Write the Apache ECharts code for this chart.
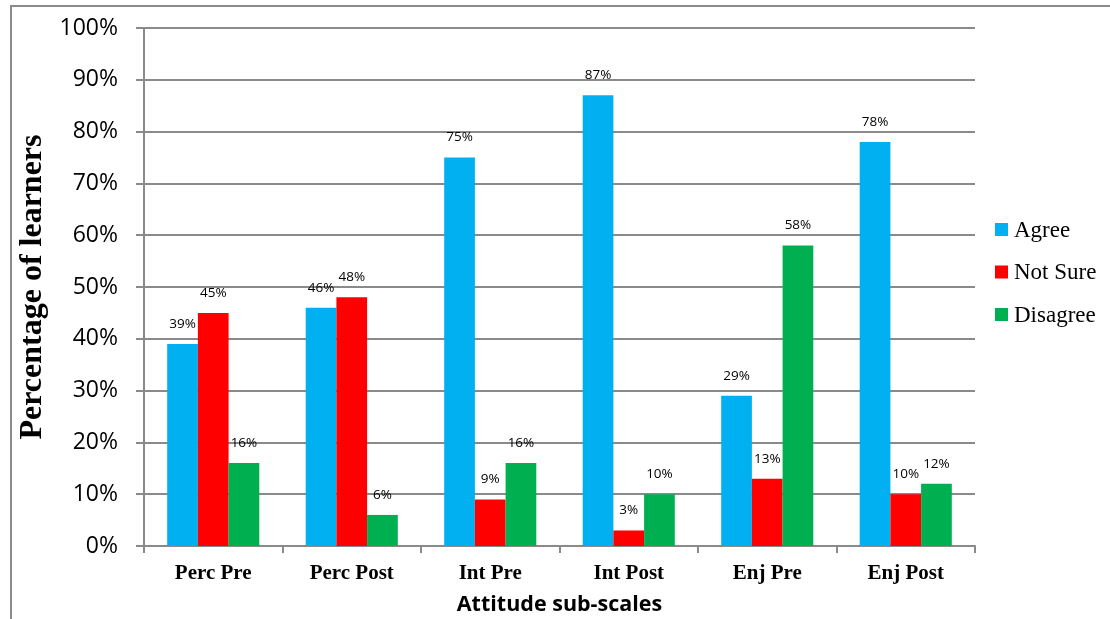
<!DOCTYPE html>
<html>
<head>
<meta charset="utf-8">
<script src="https://cdn.jsdelivr.net/npm/echarts@6/dist/echarts.min.js"></script>
<style>
  html, body { margin: 0; padding: 0; background: #fff; }
  #frame { position: absolute; left: 10px; top: 5px; width: 1100px; height: 614px;
           border-left: 2px solid #8a8a8a; border-top: 2px solid #8a8a8a; box-sizing: border-box; }
  #chart { position: absolute; left: 0; top: 0; width: 1110px; height: 619px; }
</style>
</head>
<body>
<div id="frame"></div>
<div id="chart"></div>
<script>
// Attitude sub-scales and the share of learners per response
const categories = ['Perc Pre', 'Perc Post', 'Int Pre', 'Int Post', 'Enj Pre', 'Enj Post'];
const agree    = [39, 46, 75, 87, 29, 78];
const notSure  = [45, 48, 9, 3, 13, 10];
const disagree = [16, 6, 16, 10, 58, 12];
const responses = ['Agree', 'Not Sure', 'Disagree'];
const yTicks = [0, 10, 20, 30, 40, 50, 60, 70, 80, 90, 100];

const chart = echarts.init(document.getElementById('chart'));

function barSeries(name, data, color) {
  return {
    name: name,
    type: 'bar',
    data: data,
    barGap: '0%',
    barCategoryGap: '33.5%',
    itemStyle: { color: color },
    label: {
      show: true,
      position: 'top',
      distance: 13,
      formatter: '{c}%',
      fontFamily: 'Open Sans',
      fontSize: 13.5,
      color: '#000'
    }
  };
}

// Legend swatches come from the legend component; its captions are set in serif type
// as separate text elements beside each swatch.
const legendTop = 213;
const legendStep = 42.5;
const legendCaptions = responses.map(function (n, i) {
  return {
    type: 'text',
    left: 1014,
    top: legendTop + i * legendStep + 6,
    style: { text: n, fill: '#000', font: '23px "Liberation Serif", serif' }
  };
});

chart.setOption({
  animation: false,
  backgroundColor: 'transparent',
  grid: { left: 144, right: 135, top: 28, bottom: 73, containLabel: false, outerBoundsMode: 'none' },
  legend: {
    orient: 'vertical',
    left: 990,
    top: legendTop,
    itemWidth: 13,
    itemHeight: 13,
    itemGap: 19.5,
    icon: 'rect',
    textStyle: { fontSize: 23, color: 'rgba(0,0,0,0)' },
    data: responses
  },
  graphic: legendCaptions,
  xAxis: {
    type: 'category',
    data: categories,
    name: 'Attitude sub-scales',
    nameLocation: 'middle',
    nameGap: 48,
    nameTextStyle: { fontFamily: 'Open Sans', fontWeight: 'bold', fontSize: 21.5, color: '#000' },
    axisLine: { lineStyle: { color: '#8a8a8a', width: 2 } },
    axisTick: { show: true, length: 7, lineStyle: { color: '#8a8a8a', width: 2 } },
    axisLabel: { fontFamily: 'Liberation Serif', fontWeight: 'bold', fontSize: 21, color: '#000', margin: 17 }
  },
  yAxis: {
    type: 'value',
    min: 0,
    max: 100,
    interval: 10,
    name: 'Percentage of learners',
    nameLocation: 'middle',
    nameGap: 89,
    nameTextStyle: { fontFamily: 'Liberation Serif', fontWeight: 'bold', fontSize: 32, color: '#000' },
    axisLine: { show: true, lineStyle: { color: '#8a8a8a', width: 2 } },
    axisTick: { show: true, length: 8, lineStyle: { color: '#8a8a8a', width: 2 } },
    splitLine: { lineStyle: { color: '#8a8a8a', width: 2 } },
    axisLabel: {
      fontFamily: 'Open Sans',
      fontSize: 23,
      color: '#000',
      margin: 26,
      formatter: function (v) { return yTicks.includes(v) ? v + '%' : ''; }
    }
  },
  series: [
    barSeries(responses[0], agree, '#00b0f0'),
    barSeries(responses[1], notSure, '#ff0000'),
    barSeries(responses[2], disagree, '#00b050')
  ]
});
</script>
</body>
</html>
